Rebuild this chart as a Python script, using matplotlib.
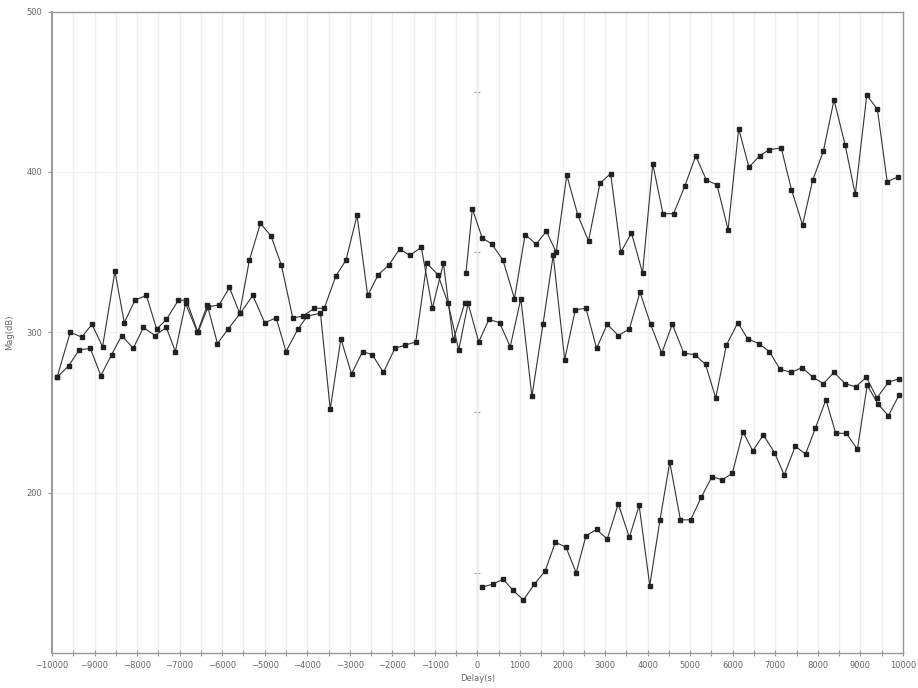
import matplotlib
matplotlib.use("Agg")
import matplotlib.pyplot as plt
from matplotlib.ticker import MultipleLocator

# values
a_x = [-9880, -9570, -9300, -9060, -8810, -8520, -8300, -8050, -7780, -7540,
       -7310, -7030, -6840, -6570, -6330, -6070, -5830, -5590, -5360, -5100,
       -4850, -4610, -4340, -4110, -3830, -3600, -3330, -3090, -2830, -2580,
       -2330, -2080, -1830, -1590, -1320, -1060, -800, -570, -300]
a_y = [272, 300, 297, 305, 291, 338, 306, 320, 323, 302,
       308, 320, 320, 300, 316, 317, 328, 312, 345, 368,
       360, 342, 309, 310, 315, 315, 335, 345, 373, 323,
       336, 342, 352, 348, 353, 315, 343, 295, 318]

b_x = [-9880, -9610, -9360, -9100, -8850, -8600, -8360, -8090, -7850, -7580,
       -7310, -7100, -6860, -6580, -6350, -6110, -5860, -5570, -5280, -5000,
       -4730, -4500, -4220, -4000, -3690, -3460, -3210, -2960, -2700, -2470,
       -2210, -1940, -1700, -1450, -1190, -930, -690, -440, -220, 30,
       270, 520, 770, 1020, 1280, 1540, 1780, 2050, 2300, 2550,
       2800, 3050, 3310, 3570, 3820, 4070, 4330, 4580, 4850, 5110,
       5360, 5600, 5850, 6120, 6350, 6610, 6860, 7110, 7370, 7630,
       7880, 8130, 8380, 8640, 8890, 9140, 9390, 9660, 9910]
b_y = [272, 279, 289, 290, 273, 286, 298, 290, 303, 298,
       303, 288, 318, 300, 317, 293, 302, 312, 323, 306,
       309, 288, 302, 310, 312, 252, 296, 274, 288, 286,
       275, 290, 292, 294, 343, 336, 318, 289, 318, 294,
       308, 306, 291, 321, 260, 305, 348, 283, 314, 315,
       290, 305, 298, 302, 325, 305, 287, 305, 287, 286,
       280, 259, 292, 306, 296, 293, 288, 277, 275, 278,
       272, 268, 275, 268, 266, 272, 259, 269, 271]

c_x = [-270, -120, 110, 340, 600, 870, 1120, 1380, 1620, 1850,
       2100, 2360, 2610, 2880, 3130, 3370, 3620, 3880, 4120, 4360,
       4610, 4870, 5130, 5380, 5630, 5890, 6140, 6380, 6630, 6860,
       7140, 7380, 7640, 7880, 8130, 8380, 8640, 8880, 9150, 9400,
       9630, 9890]
c_y = [337, 377, 359, 355, 345, 321, 361, 355, 363, 350,
       398, 373, 357, 393, 399, 350, 362, 337, 405, 374,
       374, 391, 410, 395, 392, 364, 427, 403, 410, 414,
       415, 389, 367, 395, 413, 445, 417, 386, 448, 439,
       394, 397]

d_x = [110, 370, 600, 840, 1080, 1340, 1590, 1830, 2080, 2320,
       2550, 2800, 3050, 3310, 3570, 3800, 4050, 4290, 4520, 4770,
       5010, 5260, 5510, 5750, 5990, 6240, 6470, 6720, 6980, 7210,
       7470, 7710, 7940, 8190, 8420, 8670, 8930, 9160, 9420, 9660,
       9910]
d_y = [141, 143, 146, 139, 133, 143, 151, 169, 166, 150,
       173, 177, 171, 193, 172, 192, 142, 183, 219, 183,
       183, 197, 210, 208, 212, 238, 226, 236, 225, 211,
       229, 224, 240, 258, 237, 237, 227, 267, 255, 248,
       261]

center_ticks = [150, 200, 250, 300, 350, 400, 450]

fig = plt.figure(figsize=(9.18, 6.88), dpi=100)
ax = fig.add_axes([0.0566, 0.051, 0.927, 0.932])

grey = "#999999"
txt = "#666666"

for xs, ys in [(a_x, a_y), (b_x, b_y), (c_x, c_y), (d_x, d_y)]:
    ax.plot(xs, ys, color="#333333", lw=0.8, marker="s", ms=3,
            mfc="#222222", mec="#222222", zorder=3)

ax.set_xlim(-10000, 10000)
ax.set_ylim(100, 500)
ax.xaxis.set_major_locator(MultipleLocator(1000))
ax.xaxis.set_minor_locator(MultipleLocator(500))
ax.set_yticks([200, 300, 400, 500])

ax.grid(True, which="both", axis="x", color="#eeeeee", lw=0.9, zorder=0)
ax.grid(True, which="major", axis="y", color="#f0f0f0", lw=0.9, zorder=0)

# centre axis through x = 0 with small ticks
ax.axvline(0, color="#c4c4c4", lw=1.0, zorder=1)
ax.plot([0] * len(center_ticks), center_ticks, ls="none", marker="_",
        ms=5, mew=0.8, color="#aaaaaa", zorder=1)

for s in ax.spines.values():
    s.set_color(grey)
    s.set_linewidth(1.0)
ax.spines["left"].set_linewidth(1.4)

ax.tick_params(axis="x", which="both", direction="inout", length=5, width=0.8,
               color=grey, labelsize=6.0, labelcolor=txt, pad=3)
ax.tick_params(axis="y", direction="out", length=3, width=0.8, color=grey,
               labelsize=6.0, labelcolor=txt, pad=4)

ax.set_xlabel("Delay(s)", fontsize=6.0, color=txt, labelpad=3)
ax.set_ylabel("Mag(dB)", fontsize=6.0, color=txt, labelpad=9)

fig.savefig("out.png", dpi=100)
